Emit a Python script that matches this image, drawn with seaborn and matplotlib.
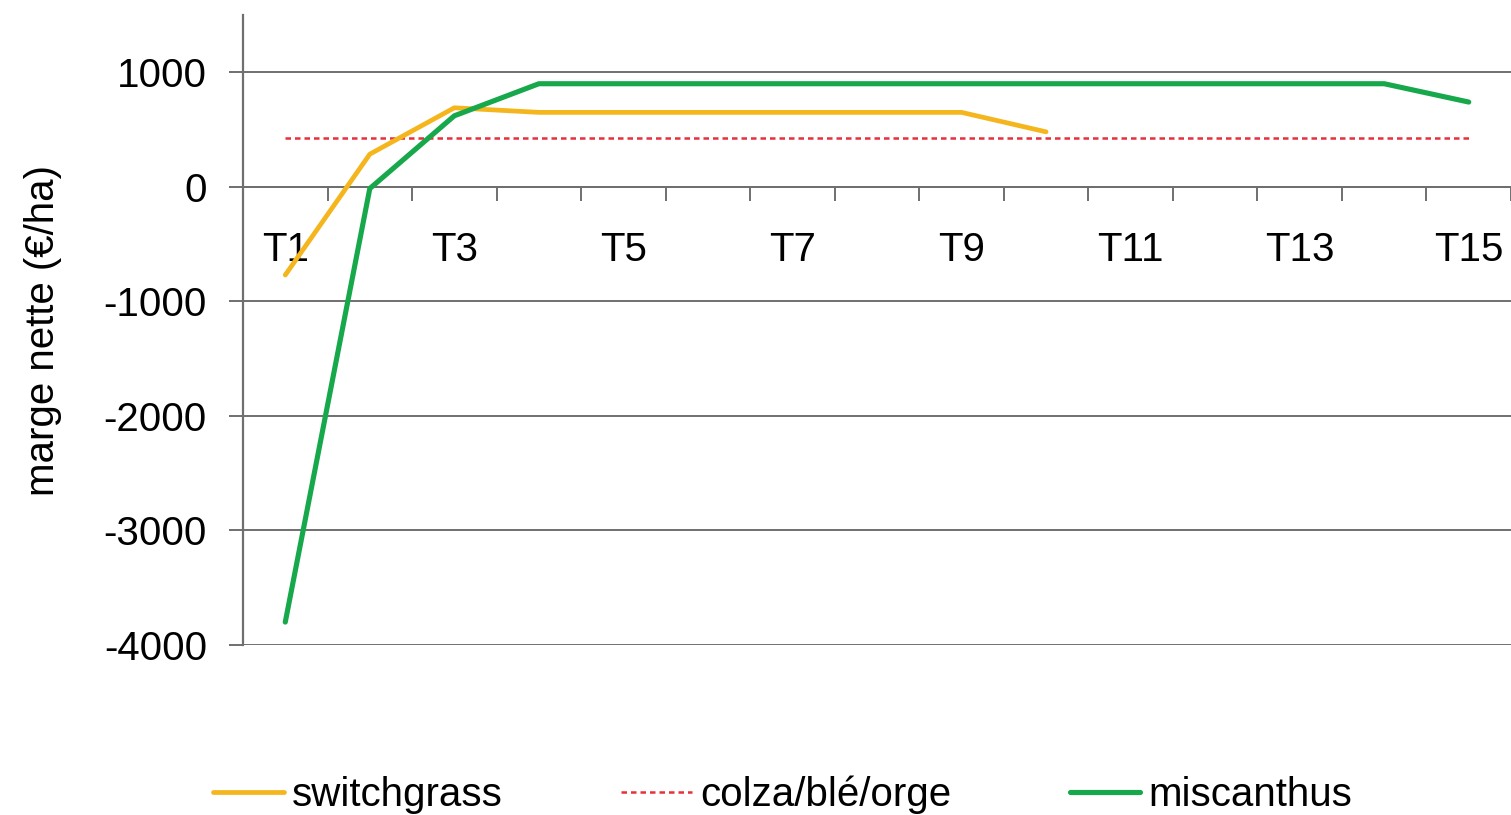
import numpy as np
import pandas as pd
import matplotlib
matplotlib.use("Agg")
import matplotlib.pyplot as plt
import seaborn as sns

# periods and net margin values (€/ha)
periods = ['T1', 'T2', 'T3', 'T4', 'T5', 'T6', 'T7', 'T8', 'T9', 'T10',
           'T11', 'T12', 'T13', 'T14', 'T15']
switchgrass = [-770, 285, 690, 650, 650, 650, 650, 650, 650, 480]
colza = [430] * 15
miscanthus = [-3800, -15, 620, 900, 900, 900, 900, 900, 900, 900,
              900, 900, 900, 900, 740]
shown_labels = ['T1', 'T3', 'T5', 'T7', 'T9', 'T11', 'T13', 'T15']
y_ticks = [1000, 0, -1000, -2000, -3000, -4000]

sns.set_theme(style="white")
plt.rcParams['font.family'] = ['Liberation Sans', 'DejaVu Sans']
plt.rcParams['text.color'] = 'black'
plt.rcParams['xtick.labelcolor'] = 'black'
plt.rcParams['ytick.labelcolor'] = 'black'
plt.rcParams['axes.labelcolor'] = 'black'

df_c = pd.DataFrame({'periode': periods, 'marge': colza})
df_m = pd.DataFrame({'periode': periods, 'marge': miscanthus})
df_s = pd.DataFrame({'periode': periods[:len(switchgrass)], 'marge': switchgrass})

fig = plt.figure(figsize=(15.11, 8.15), dpi=100)
ax = fig.add_axes([243 / 1511, (815 - 645) / 815, 1 - 243 / 1511, (645 - 15) / 815])

grid_col = '#6f6f6f'
for v in y_ticks:
    ax.axhline(v, color=grid_col, lw=1.4, zorder=1)

# colza first so the category order is T1..T15
sns.lineplot(data=df_c, x='periode', y='marge', ax=ax, color='#e8303a',
             lw=1.8, linestyle=(0, (2.2, 1.6)), zorder=3, label='colza/blé/orge')
sns.lineplot(data=df_s, x='periode', y='marge', ax=ax, color='#f5b51c',
             lw=3.4, zorder=4, label='switchgrass')
sns.lineplot(data=df_m, x='periode', y='marge', ax=ax, color='#17a84b',
             lw=3.7, zorder=5, label='miscanthus')

ax.set_ylim(-4000, 1500)
ax.set_xlim(-0.5, -0.5 + (1511 - 243) / 85)
ax.set_yticks(y_ticks)
ax.set_yticklabels([str(v) for v in y_ticks], fontsize=29)
ax.tick_params(axis='y', which='major', length=10, width=1.4, color=grid_col,
               direction='out', left=True, pad=16)

# x axis drawn at zero, ticks between categories, labels below
ax.spines['bottom'].set_position(('data', 0))
ax.spines['bottom'].set_color(grid_col)
ax.spines['bottom'].set_linewidth(1.4)
ax.spines['left'].set_color(grid_col)
ax.spines['left'].set_linewidth(1.6)
ax.spines['top'].set_visible(False)
ax.spines['right'].set_visible(False)

ax.set_xticks(np.arange(0.5, 15, 1))
ax.set_xticklabels([])
ax.set_xticks([periods.index(p) for p in shown_labels], minor=True)
ax.set_xticklabels(shown_labels, minor=True, fontsize=29)
ax.tick_params(axis='x', which='major', length=10, width=1.4, color=grid_col,
               direction='out', bottom=True)
ax.tick_params(axis='x', which='minor', length=0, pad=32, bottom=True)

ax.set_xlabel('')
ax.set_ylabel('marge nette (€/ha)', fontsize=29, labelpad=30)

handles, labels = ax.get_legend_handles_labels()
order = [labels.index(n) for n in ['switchgrass', 'colza/blé/orge', 'miscanthus']]
ax.legend_.remove()
fig.legend([handles[i] for i in order], [labels[i] for i in order],
           loc='lower center', bbox_to_anchor=(0.518, -0.043), ncol=3,
           frameon=False, fontsize=29, handlelength=1.75, handletextpad=0.2,
           columnspacing=2.95)

fig.savefig('out.png', dpi=100)
